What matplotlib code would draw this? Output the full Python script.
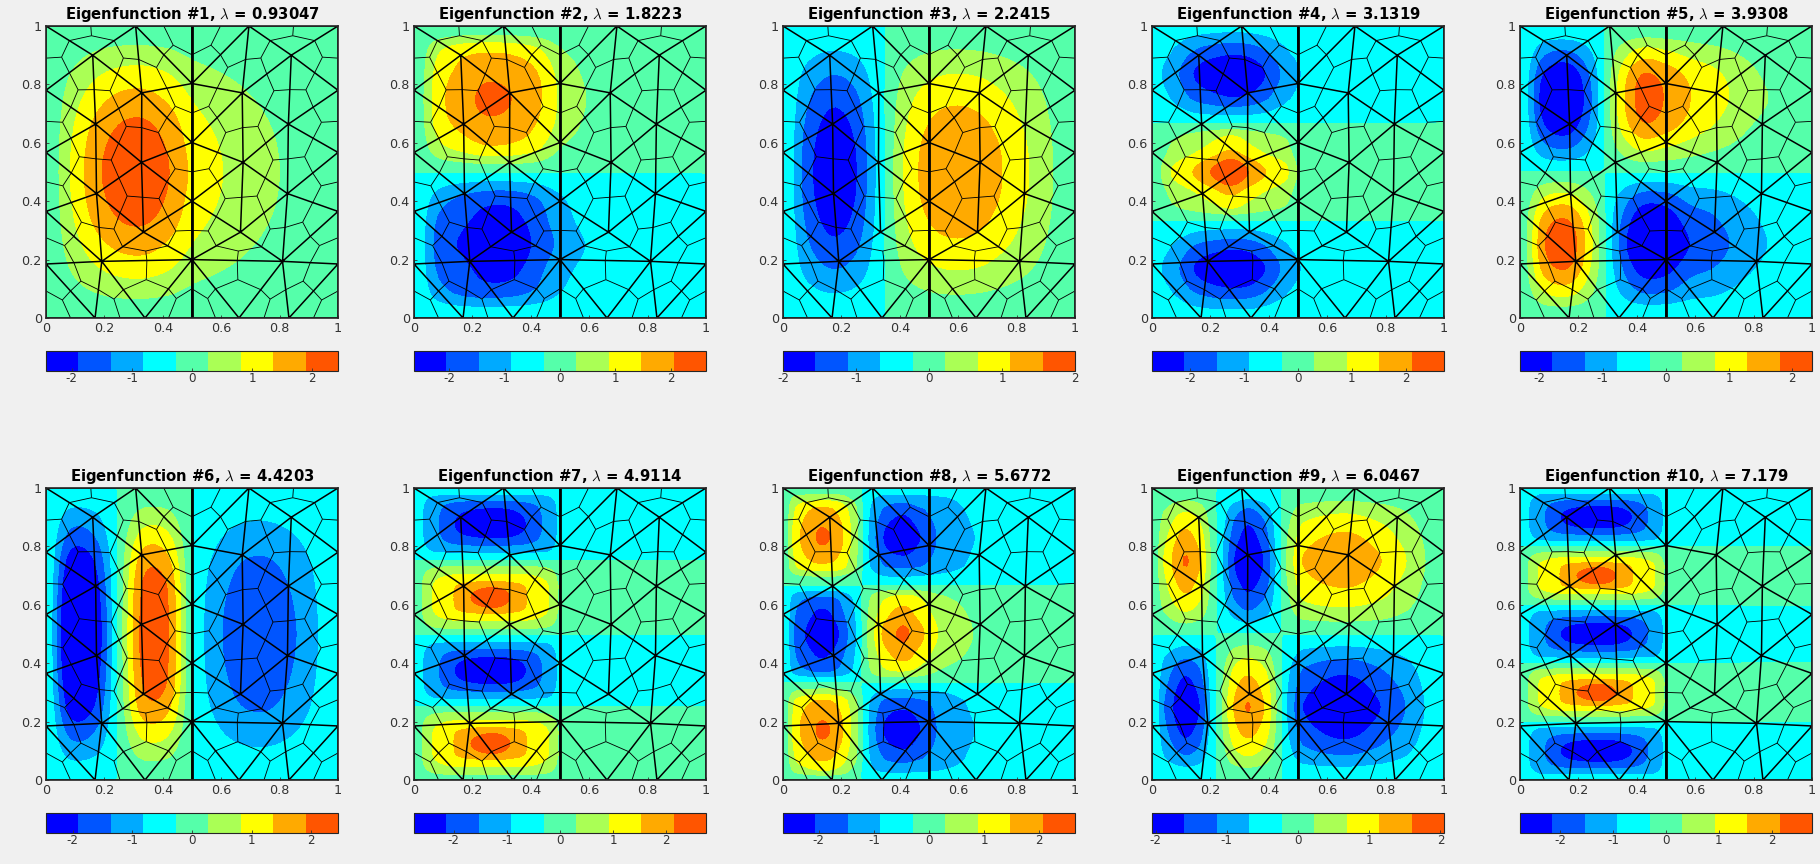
import numpy as np
import matplotlib
matplotlib.use("Agg")
import matplotlib.pyplot as plt
from matplotlib.collections import LineCollection
from matplotlib.cm import ScalarMappable
from matplotlib.colors import ListedColormap, Normalize
from matplotlib.tri import Triangulation

plt.rcParams["axes.unicode_minus"] = False
plt.rcParams["mathtext.fontset"] = "cm"

LAMBDAS = ["0.93047", "1.8223", "2.2415", "3.1319", "3.9308",
           "4.4203", "4.9114", "5.6772", "6.0467", "7.179"]
# half range of each colorbar
CLIMS = [2.43, 2.64, 2.0, 2.71, 2.31, 2.45, 2.75, 2.65, 2.05, 2.76]
COLORS = ["#0000FF", "#0055FF", "#00AAFF", "#00FFFF", "#55FFAA",
          "#AAFF55", "#FFFF00", "#FFAA00", "#FF5500"]
LEVELS = [-1.5, -1, -0.5, 0, 0.5, 1, 1.5, 2]
TICKS = [0, 0.2, 0.4, 0.6, 0.8, 1]
TICK_LABELS = ["0", "0.2", "0.4", "0.6", "0.8", "1"]
CBAR_TICKS = [-2, -1, 0, 1, 2]

# mesh nodes, boundary first then interior
MESH_X = [0, 0.307, 0.5, 0.695, 1, 0, 0, 0, 0, 0, 0.168, 0.339, 0.5, 0.661, 0.832, 1, 1, 1, 1, 1,
          0.16, 0.328, 0.5, 0.672, 0.84, 0.17, 0.327, 0.5, 0.675, 0.83, 0.173, 0.5, 0.827,
          0.334, 0.666, 0.191, 0.5, 0.81]
MESH_Y = [1, 1, 1, 1, 1, 0.78, 0.567, 0.365, 0.185, 0, 0, 0, 0, 0, 0, 0, 0.185, 0.365, 0.567, 0.78,
          0.9, 0.771, 0.803, 0.771, 0.9, 0.664, 0.533, 0.601, 0.533, 0.664, 0.426, 0.4, 0.426,
          0.294, 0.294, 0.194, 0.2, 0.194]
MESH_TRI = [
    [0, 1, 20], [0, 20, 5], [1, 20, 21], [1, 21, 22], [1, 22, 2], [2, 22, 3], [3, 22, 23], [3, 23, 24],
    [3, 24, 4], [4, 24, 19], [5, 20, 25], [20, 21, 25], [21, 22, 27], [22, 23, 27], [23, 24, 29],
    [24, 19, 29], [5, 25, 6], [25, 21, 26], [21, 27, 26], [23, 27, 28], [23, 28, 29], [29, 19, 18],
    [6, 25, 30], [25, 26, 30], [26, 27, 31], [27, 28, 31], [28, 29, 32], [29, 18, 32], [6, 30, 7],
    [30, 26, 33], [26, 31, 33], [31, 28, 34], [28, 32, 34], [32, 18, 17], [7, 30, 35], [30, 33, 35],
    [33, 31, 36], [31, 34, 36], [34, 32, 37], [32, 17, 37], [7, 35, 8], [35, 33, 36], [36, 34, 37],
    [37, 17, 16], [8, 35, 10], [8, 10, 9], [35, 10, 11], [35, 11, 36], [11, 36, 12], [12, 36, 13],
    [36, 13, 37], [13, 37, 14], [37, 14, 16], [14, 15, 16],
]

# grids, rows run from y=1 down to y=0
GRID12 = [0, 0.083, 0.167, 0.25, 0.333, 0.417, 0.5, 0.583, 0.667, 0.75, 0.833, 0.917, 1]
GRID12_DOWN = GRID12[::-1]

P1 = [
    [.001, .01, .02, .02, .02, .02, .01, .01, .01, .01, .01, .005, .001],
    [.01, .26, .47, .6, .62, .53, .36, .28, .22, .16, .11, .06, .01],
    [.01, .5, .91, 1.15, 1.2, 1.02, .7, .54, .42, .31, .21, .11, .01],
    [.01, .7, 1.27, 1.61, 1.68, 1.42, .98, .75, .58, .43, .29, .15, .01],
    [.02, .86, 1.57, 1.98, 2.06, 1.75, 1.2, .92, .71, .53, .36, .19, .02],
    [.02, .96, 1.75, 2.2, 2.3, 1.95, 1.34, 1.03, .8, .6, .4, .21, .02],
    [.02, 1.0, 1.82, 2.3, 2.4, 2.03, 1.4, 1.07, .83, .62, .42, .22, .02],
    [.02, .96, 1.75, 2.2, 2.3, 1.95, 1.34, 1.03, .8, .6, .4, .21, .02],
    [.02, .86, 1.57, 1.98, 2.06, 1.75, 1.2, .92, .71, .53, .36, .19, .02],
    [.01, .7, 1.27, 1.61, 1.68, 1.42, .98, .75, .58, .43, .29, .15, .01],
    [.01, .5, .91, 1.15, 1.2, 1.02, .7, .54, .42, .31, .21, .11, .01],
    [.01, .26, .47, .6, .62, .53, .36, .28, .22, .16, .11, .06, .01],
    [.001, .01, .02, .02, .02, .02, .01, .01, .01, .01, .01, .005, .001],
]
P2 = [
    [.01, .01, .01, .01, .01, .01, .01, .01, .01, .01, .01, .01, .01],
    [.01, .9, 1.3, 1.4, 1.35, 1.1, .54, .31, .18, .12, .07, .04, .01],
    [.02, 1.2, 1.65, 1.87, 1.8, 1.55, .85, .45, .26, .17, .1, .05, .02],
    [.02, 1.3, 1.75, 2.15, 2.0, 1.65, .9, .52, .3, .2, .12, .06, .02],
    [.02, 1.2, 1.65, 1.87, 1.8, 1.5, .85, .45, .26, .17, .1, .05, .02],
    [.01, .8, 1.15, 1.4, 1.35, 1.1, .5, .29, .17, .11, .07, .03, .01],
    [.0005, .0005, .0005, .0005, .0005, .0005, .0005, .0005, .0005, .0005, .0005, .0005, .0005],
    [-.01, -.7, -1.05, -1.25, -1.25, -1.0, -.55, -.27, -.16, -.1, -.06, -.03, -.01],
    [-.02, -1.1, -1.4, -1.75, -1.7, -1.3, -.75, -.39, -.22, -.15, -.09, -.05, -.02],
    [-.02, -1.2, -1.6, -2.2, -2.0, -1.4, -.9, -.52, -.3, -.2, -.12, -.06, -.02],
    [-.02, -1.1, -1.35, -1.75, -1.7, -1.2, -.7, -.4, -.22, -.15, -.09, -.05, -.02],
    [-.01, -.75, -1.1, -1.2, -1.15, -.9, -.5, -.27, -.16, -.1, -.06, -.03, -.01],
    [-.01, -.01, -.01, -.01, -.01, -.01, -.01, -.01, -.01, -.01, -.01, -.01, -.01],
]
P3 = [
    [-.001, -.013, -.02, -.015, -.003, .011, .017, .02, .018, .015, .01, .005, .001],
    [-.01, -.34, -.5, -.4, -.07, .27, .45, .51, .48, .39, .27, .14, .01],
    [-.01, -.68, -1.0, -.81, -.14, .55, .89, 1.01, .96, .78, .55, .29, .01],
    [-.01, -.94, -1.39, -1.12, -.19, .76, 1.24, 1.4, 1.33, 1.08, .76, .4, .01],
    [-.02, -1.13, -1.68, -1.35, -.23, .91, 1.5, 1.7, 1.61, 1.31, .91, .48, .02],
    [-.02, -1.26, -1.87, -1.5, -.26, 1.02, 1.67, 1.89, 1.79, 1.46, 1.02, .53, .02],
    [-.02, -1.3, -1.93, -1.55, -.27, 1.05, 1.72, 1.95, 1.85, 1.5, 1.05, .55, .02],
    [-.02, -1.26, -1.87, -1.5, -.26, 1.02, 1.67, 1.89, 1.79, 1.46, 1.02, .53, .02],
    [-.02, -1.13, -1.68, -1.35, -.23, .91, 1.5, 1.7, 1.61, 1.31, .91, .48, .02],
    [-.01, -.94, -1.39, -1.12, -.19, .76, 1.24, 1.4, 1.33, 1.08, .76, .4, .01],
    [-.01, -.68, -1.0, -.81, -.14, .55, .89, 1.01, .96, .78, .55, .29, .01],
    [-.01, -.34, -.5, -.4, -.07, .27, .45, .51, .48, .39, .27, .14, .01],
    [-.001, -.013, -.02, -.015, -.003, .011, .017, .02, .018, .015, .01, .005, .001],
]
P4_X = [0, .03, .07, .14, .2, .27, .33, .39, .46, .5, .6, 1]
P4_Y = [1, .98, .93, .84, .75, .70, .666, .625, .57, .5, .43, .375, .335, .30, .25, .17, .09, .03, 0]
P4 = [
    [-.001, -.001, -.001, -.001, -.001, -.001, -.001, -.001, -.001, -.001, -.001, -.001],
    [-.01, -.12, -.2, -.38, -.46, -.51, -.48, -.38, -.22, -.14, -.03, -.01],
    [-.01, -.28, -.47, -.89, -1.09, -1.21, -1.15, -.89, -.5, -.32, -.06, -.01],
    [-.01, -.48, -.8, -1.5, -1.85, -2.05, -1.95, -1.5, -.85, -.55, -.1, -.01],
    [-.01, -.34, -.57, -1.07, -1.31, -1.46, -1.38, -1.07, -.6, -.39, -.07, -.01],
    [-.003, -.15, -.26, -.48, -.59, -.66, -.62, -.48, -.27, -.18, -.03, -.003],
    [.0002, .0002, .0002, .0002, .0002, .0002, .0002, .0002, .0002, .0002, .0002, .0002],
    [.004, .19, .41, .59, .78, .99, .78, .59, .43, .18, .05, .004],
    [.006, .29, .64, .92, 1.22, 1.56, 1.22, .92, .67, .27, .07, .006],
    [.01, .48, 1.05, 1.5, 2.0, 2.55, 2.0, 1.5, 1.1, .45, .12, .01],
    [.006, .3, .66, .95, 1.26, 1.61, 1.26, .95, .69, .28, .08, .006],
    [.004, .19, .41, .59, .78, .99, .78, .59, .43, .18, .05, .004],
    [.0002, .0002, .0002, .0002, .0002, .0002, .0002, .0002, .0002, .0002, .0002, .0002],
    [-.003, -.14, -.23, -.44, -.54, -.6, -.57, -.44, -.25, -.16, -.03, -.003],
    [-.007, -.32, -.53, -.99, -1.22, -1.35, -1.29, -.99, -.56, -.36, -.07, -.007],
    [-.01, -.48, -.8, -1.5, -1.85, -2.05, -1.95, -1.5, -.85, -.55, -.1, -.01],
    [-.007, -.33, -.54, -1.02, -1.26, -1.39, -1.33, -1.02, -.58, -.37, -.07, -.007],
    [-.003, -.13, -.22, -.41, -.5, -.55, -.53, -.41, -.23, -.15, -.03, -.003],
    [-.001, -.001, -.001, -.001, -.001, -.001, -.001, -.001, -.001, -.001, -.001, -.001],
]
P5 = [
    [-.001, -.01, -.01, -.005, .005, .01, .01, .01, .01, .01, .01, .005, .001],
    [-.01, -.85, -1.0, -.44, .5, 1.1, .98, .75, .6, .42, .25, .1, .01],
    [-.02, -1.6, -1.9, -.82, .9, 2.0, 1.78, 1.37, 1.1, .75, .45, .22, .02],
    [-.02, -1.85, -2.2, -.95, 1.0, 2.2, 1.95, 1.5, 1.2, .85, .55, .3, .02],
    [-.02, -1.55, -1.85, -.8, .89, 1.95, 1.74, 1.33, 1.0, .65, .4, .2, .02],
    [-.01, -.89, -1.05, -.46, .5, 1.1, .97, .75, .55, .38, .2, .1, .01],
    [.0005, .0005, .0005, .0005, .0005, .0005, .0005, .0005, .0005, .0005, .0005, .0005, .0005],
    [.01, .95, 1.1, .46, -.52, -1.2, -1.18, -.82, -.69, -.47, -.3, -.16, -.01],
    [.02, 1.7, 2.0, .83, -.82, -1.9, -1.85, -1.29, -1.07, -.73, -.47, -.26, -.02],
    [.02, 1.95, 2.3, .95, -.95, -2.2, -2.15, -1.5, -1.25, -.85, -.55, -.3, -.02],
    [.02, 1.65, 1.95, .8, -.74, -1.72, -1.68, -1.17, -.98, -.66, -.43, -.23, -.02],
    [.01, .93, 1.1, .46, -.43, -.99, -.97, -.68, -.56, -.38, -.25, -.13, -.01],
    [.001, .01, .01, .005, -.005, -.01, -.01, -.01, -.01, -.01, -.01, -.005, -.001],
]
P6 = [
    [-.001, -.02, -.02, .002, .02, .02, .0001, -.009, -.01, -.01, -.01, -.006, -.001],
    [-.01, -.62, -.53, .04, .6, .55, .003, -.22, -.35, -.38, -.3, -.16, -.01],
    [-.01, -1.2, -1.03, .08, 1.2, 1.1, .005, -.43, -.68, -.73, -.58, -.31, -.01],
    [-.01, -1.75, -1.5, .11, 1.75, 1.6, .007, -.62, -.99, -1.06, -.84, -.45, -.01],
    [-.02, -2.09, -1.78, .13, 2.05, 1.95, .009, -.74, -1.17, -1.26, -1.0, -.54, -.02],
    [-.02, -2.3, -1.97, .14, 2.15, 2.02, .01, -.82, -1.3, -1.39, -1.1, -.6, -.02],
    [-.02, -2.4, -2.05, .15, 2.2, 2.05, .01, -.85, -1.35, -1.45, -1.15, -.62, -.02],
    [-.02, -2.3, -1.97, .14, 2.15, 2.02, .01, -.82, -1.3, -1.39, -1.1, -.6, -.02],
    [-.02, -2.09, -1.78, .13, 2.02, 1.95, .009, -.74, -1.17, -1.26, -1.0, -.54, -.02],
    [-.01, -1.75, -1.5, .11, 1.75, 1.6, .007, -.62, -.99, -1.06, -.84, -.45, -.01],
    [-.01, -1.2, -1.03, .08, 1.2, 1.1, .005, -.43, -.68, -.73, -.58, -.31, -.01],
    [-.01, -.62, -.53, .04, .6, .55, .003, -.22, -.35, -.38, -.3, -.16, -.01],
    [-.001, -.02, -.02, .002, .02, .02, .0001, -.009, -.01, -.01, -.01, -.006, -.001],
]

# rows shared by the stacked lobes of #7 and #10
LOBE_X = [0, .03, .065, .137, .195, .27, .328, .385, .46, .49, .6, 1]
ROW_ZERO = [.0002, .0002, .0002, .0002, .0002, .0002, .0002, .0002, .0002, .0002, .0002, .0002]
ROW_TOP = [-.001, -.001, -.001, -.001, -.001, -.001, -.001, -.001, -.001, -.001, -.001, -.001]
POS_EDGE = [.004, .3, .45, .52, .54, .55, .54, .52, .45, .3, .04, .004]
POS_MID = [.008, .5, .95, 1.35, 1.45, 1.5, 1.45, 1.35, .95, .5, .1, .008]
POS_PEAK = [.01, .5, 1.0, 1.5, 2.0, 2.6, 2.0, 1.5, 1.0, .5, .1, .01]
NEG_EDGE = [-.005, -.33, -.5, -.57, -.59, -.6, -.59, -.57, -.5, -.33, -.04, -.005]
NEG_MID = [-.01, -.48, -.8, -1.2, -1.35, -1.4, -1.37, -1.2, -.8, -.48, -.08, -.01]
NEG_PEAK = [-.01, -.5, -.85, -1.5, -1.9, -2.2, -1.95, -1.5, -.85, -.5, -.1, -.01]

P7_Y = [1, .975, .94, .875, .82, .78, .751, .73, .68, .625, .57, .52, .5, .47, .43, .375, .32, .28,
        .251, .23, .18, .125, .07, .02, 0]
P7 = [ROW_TOP, NEG_EDGE, NEG_MID, NEG_PEAK, NEG_MID, NEG_EDGE, ROW_ZERO,
      POS_EDGE, POS_MID, POS_PEAK, POS_MID, POS_EDGE, ROW_ZERO,
      NEG_EDGE, NEG_MID, NEG_PEAK, NEG_MID, NEG_EDGE, ROW_ZERO,
      POS_EDGE, POS_MID, POS_PEAK, POS_MID, POS_EDGE, ROW_TOP]

P8_X = [0, .04, .083, .135, .19, .25, .29, .345, .41, .46, .53, .65, .8, 1]
P8_Y = [1, .97, .93, .83, .73, .70, .667, .63, .58, .5, .42, .37, .334, .31, .27, .17, .07, .03, 0]
P8 = [
    [.001, .01, .01, .01, .01, .004, -.003, -.01, -.01, -.01, -.01, -.005, -.002, -.001],
    [.004, .55, .65, .7, .65, .25, -.3, -.65, -.7, -.65, -.55, -.3, -.05, -.004],
    [.008, .95, 1.4, 1.55, 1.35, .55, -.4, -1.05, -1.35, -1.1, -.8, -.42, -.15, -.008],
    [.01, 1.2, 1.75, 2.08, 1.72, .65, -.48, -1.55, -2.0, -1.6, -.98, -.52, -.25, -.01],
    [.008, .9, 1.3, 1.4, 1.25, .5, -.4, -1.0, -1.15, -1.05, -.8, -.42, -.15, -.008],
    [.004, .4, .5, .55, .5, .2, -.25, -.55, -.6, -.55, -.45, -.25, -.05, -.004],
    [.0002, .0002, .0002, .0002, .0002, .0002, .0002, .0002, .0002, .0002, .0002, .0002, .0002, .0002],
    [-.005, -.7, -.95, -1.0, -.9, -.35, .35, .85, 1.05, .95, .55, .3, .08, .005],
    [-.008, -.95, -1.3, -1.6, -1.2, -.45, .45, 1.2, 1.65, 1.3, .8, .42, .15, .008],
    [-.01, -1.1, -1.6, -2.15, -1.55, -.55, .5, 1.6, 2.08, 1.72, 1.0, .5, .2, .01],
    [-.008, -.95, -1.3, -1.55, -1.2, -.45, .45, 1.2, 1.65, 1.3, .75, .4, .12, .008],
    [-.005, -.7, -.95, -1.05, -.9, -.35, .35, .85, .95, .8, .45, .22, .05, .005],
    [.0002, .0002, .0002, .0002, .0002, .0002, .0002, .0002, .0002, .0002, .0002, .0002, .0002, .0002],
    [.004, .4, .5, .55, .5, .2, -.25, -.5, -.55, -.5, -.45, -.25, -.05, -.004],
    [.008, 1.0, 1.4, 1.55, 1.35, .55, -.42, -1.1, -1.25, -1.15, -.85, -.42, -.15, -.008],
    [.01, 1.2, 1.75, 2.08, 1.72, .65, -.48, -1.55, -2.0, -1.6, -.98, -.52, -.25, -.01],
    [.008, .95, 1.35, 1.55, 1.3, .5, -.42, -1.0, -1.2, -1.05, -.8, -.42, -.15, -.008],
    [.004, .55, .8, .95, .8, .25, -.3, -.6, -.65, -.6, -.5, -.28, -.05, -.004],
    [.001, .01, .01, .01, .01, .004, -.003, -.01, -.01, -.01, -.01, -.005, -.002, -.001],
]

P9_X = [0, .04, .11, .165, .2, .24, .28, .33, .39, .425, .46, .515, .66, .785, .87, .935, 1]
P9 = [
    [.001, .01, .02, .015, .005, -.005, -.015, -.02, -.014, -.005, .005, .015, .02, .015, .01, .005, .001],
    [.005, .5, 1.0, .75, .25, -.28, -.85, -1.2, -.8, -.28, .25, .75, .95, .75, .5, .25, .005],
    [.008, .82, 1.65, 1.23, .41, -.41, -1.25, -1.7, -1.2, -.41, .41, 1.23, 1.6, 1.23, .82, .41, .008],
    [.01, 1.0, 2.02, 1.5, .5, -.5, -1.5, -2.0, -1.4, -.5, .5, 1.5, 1.95, 1.5, 1.0, .5, .01],
    [.008, .82, 1.65, 1.23, .41, -.41, -1.25, -1.65, -1.2, -.41, .41, 1.23, 1.55, 1.23, .82, .41, .008],
    [.005, .52, 1.05, .78, .26, -.26, -.78, -1.05, -.73, -.26, .26, .78, .9, .78, .52, .26, .005],
    [.0005, .0005, .0005, .0005, .0005, .0005, .0005, .0005, .0005, .0005, .0005, .0005, .0005, .0005, .0005, .0005, .0005],
    [-.005, -.52, -1.0, -.78, -.26, .26, .78, 1.0, .73, .26, -.26, -.78, -1.0, -.78, -.52, -.26, -.005],
    [-.008, -.84, -1.65, -1.26, -.42, .42, 1.26, 1.65, 1.18, .42, -.42, -1.26, -1.7, -1.26, -.84, -.42, -.008],
    [-.01, -1.0, -1.95, -1.5, -.5, .5, 1.5, 2.02, 1.4, .5, -.5, -1.5, -1.95, -1.5, -1.0, -.5, -.01],
    [-.008, -.84, -1.65, -1.26, -.42, .42, 1.26, 1.65, 1.18, .42, -.42, -1.26, -1.7, -1.26, -.84, -.42, -.008],
    [-.005, -.52, -1.0, -.78, -.26, .26, .78, 1.0, .73, .26, -.26, -.78, -1.0, -.78, -.52, -.26, -.005],
    [-.001, -.01, -.02, -.015, -.005, .005, .015, .02, .014, .005, -.005, -.015, -.02, -.015, -.01, -.005, -.001],
]

P10_Y = [1, .98, .945, .9, .855, .82, .8, .78, .745, .7, .655, .62, .6, .58, .545, .5, .455, .42, .4,
         .38, .345, .3, .255, .22, .2, .18, .145, .1, .055, .02, 0]
P10 = [ROW_TOP, NEG_EDGE, NEG_MID, NEG_PEAK, NEG_MID, NEG_EDGE, ROW_ZERO,
       POS_EDGE, POS_MID, POS_PEAK, POS_MID, POS_EDGE, ROW_ZERO,
       NEG_EDGE, NEG_MID, NEG_PEAK, NEG_MID, NEG_EDGE, ROW_ZERO,
       POS_EDGE, POS_MID, POS_PEAK, POS_MID, POS_EDGE, ROW_ZERO,
       NEG_EDGE, NEG_MID, NEG_PEAK, NEG_MID, NEG_EDGE, ROW_TOP]

FIELDS = [
    (GRID12, GRID12_DOWN, P1), (GRID12, GRID12_DOWN, P2), (GRID12, GRID12_DOWN, P3),
    (P4_X, P4_Y, P4), (GRID12, GRID12_DOWN, P5), (GRID12, GRID12_DOWN, P6),
    (LOBE_X, P7_Y, P7), (P8_X, P8_Y, P8), (P9_X, GRID12_DOWN, P9), (LOBE_X, P10_Y, P10),
]

W, H = 1820, 864
PANEL_LEFT = [46, 414, 783, 1152, 1520]
PANEL_TOP = [26, 488]
CBAR_TOP = [351, 813]
DARK = "#333333"


def px_axes(fig, left, top, width, height):
    return fig.add_axes([left / W, 1 - (top + height) / H, width / W, height / H])


def smooth_rows(z, steps=6):
    # cubic through the rows so the filled contours come out round, not faceted
    n = z.shape[0]
    out = []
    for k in range(n - 1):
        p0, p1, p2, p3 = z[max(k - 1, 0)], z[k], z[k + 1], z[min(k + 2, n - 1)]
        for t in np.arange(steps) / steps:
            out.append(p1 + 0.5 * t * (p2 - p0 + t * (2 * p0 - 5 * p1 + 4 * p2 - p3
                                                      + t * (3 * p1 - p0 - 3 * p2 + p3))))
    out.append(z[-1])
    return np.array(out)


def fine_axis(v, steps=6):
    return np.interp(np.arange((len(v) - 1) * steps + 1) / steps, np.arange(len(v)), v)


fig = plt.figure(figsize=(W / 100, H / 100), dpi=100, facecolor="#F0F0F0")

tri = Triangulation(MESH_X, MESH_Y, MESH_TRI)
mesh_xy = np.column_stack([MESH_X, MESH_Y])

# thin control volume lines: triangle centroid to each edge midpoint
thin_segments = []
for t in MESH_TRI:
    pts = mesh_xy[t]
    centre = pts.mean(axis=0)
    for a, b in [(0, 1), (1, 2), (2, 0)]:
        thin_segments.append([centre, (pts[a] + pts[b]) / 2])

cmap = ListedColormap(COLORS)

for i, (xs, ys, z) in enumerate(FIELDS):
    row, col = divmod(i, 5)
    ax = px_axes(fig, PANEL_LEFT[col], PANEL_TOP[row], 292, 292)
    fine = smooth_rows(smooth_rows(np.array(z)).T).T
    ax.contourf(fine_axis(xs), fine_axis(ys), fine, levels=LEVELS, colors=COLORS, extend="both")
    ax.add_collection(LineCollection(thin_segments, colors="k", linewidths=0.62, zorder=3))
    ax.triplot(tri, color="k", lw=1.1, zorder=4)
    ax.plot([0.5, 0.5], [0, 1], color="k", lw=2.0, zorder=4)
    ax.set_xlim(0, 1)
    ax.set_ylim(0, 1)
    ax.set_xticks(TICKS, TICK_LABELS)
    ax.set_yticks(TICKS, TICK_LABELS)
    ax.tick_params(direction="in", length=2.2, width=0.6, colors=DARK, labelsize=9.2, pad=3)
    for spine in ax.spines.values():
        spine.set_linewidth(1.2)
        spine.set_color("#262626")
        spine.set_zorder(6)
    ax.set_title(f"Eigenfunction #{i + 1}, $\\lambda$ = {LAMBDAS[i]}",
                 fontsize=10.7, fontweight="bold", color="k", pad=5)

    cax = px_axes(fig, PANEL_LEFT[col], CBAR_TOP[row], 292, 20)
    norm = Normalize(-CLIMS[i], CLIMS[i])
    cb = fig.colorbar(ScalarMappable(norm=norm, cmap=cmap), cax=cax, orientation="horizontal",
                      ticks=CBAR_TICKS, drawedges=False)
    cb.set_ticklabels([str(v) for v in CBAR_TICKS])
    cb.ax.tick_params(direction="in", length=2.2, width=0.6, colors=DARK, labelsize=8.6, pad=1)
    cb.outline.set_linewidth(0.8)
    cb.outline.set_edgecolor("#262626")

fig.savefig("out.png", dpi=100, facecolor=fig.get_facecolor())
